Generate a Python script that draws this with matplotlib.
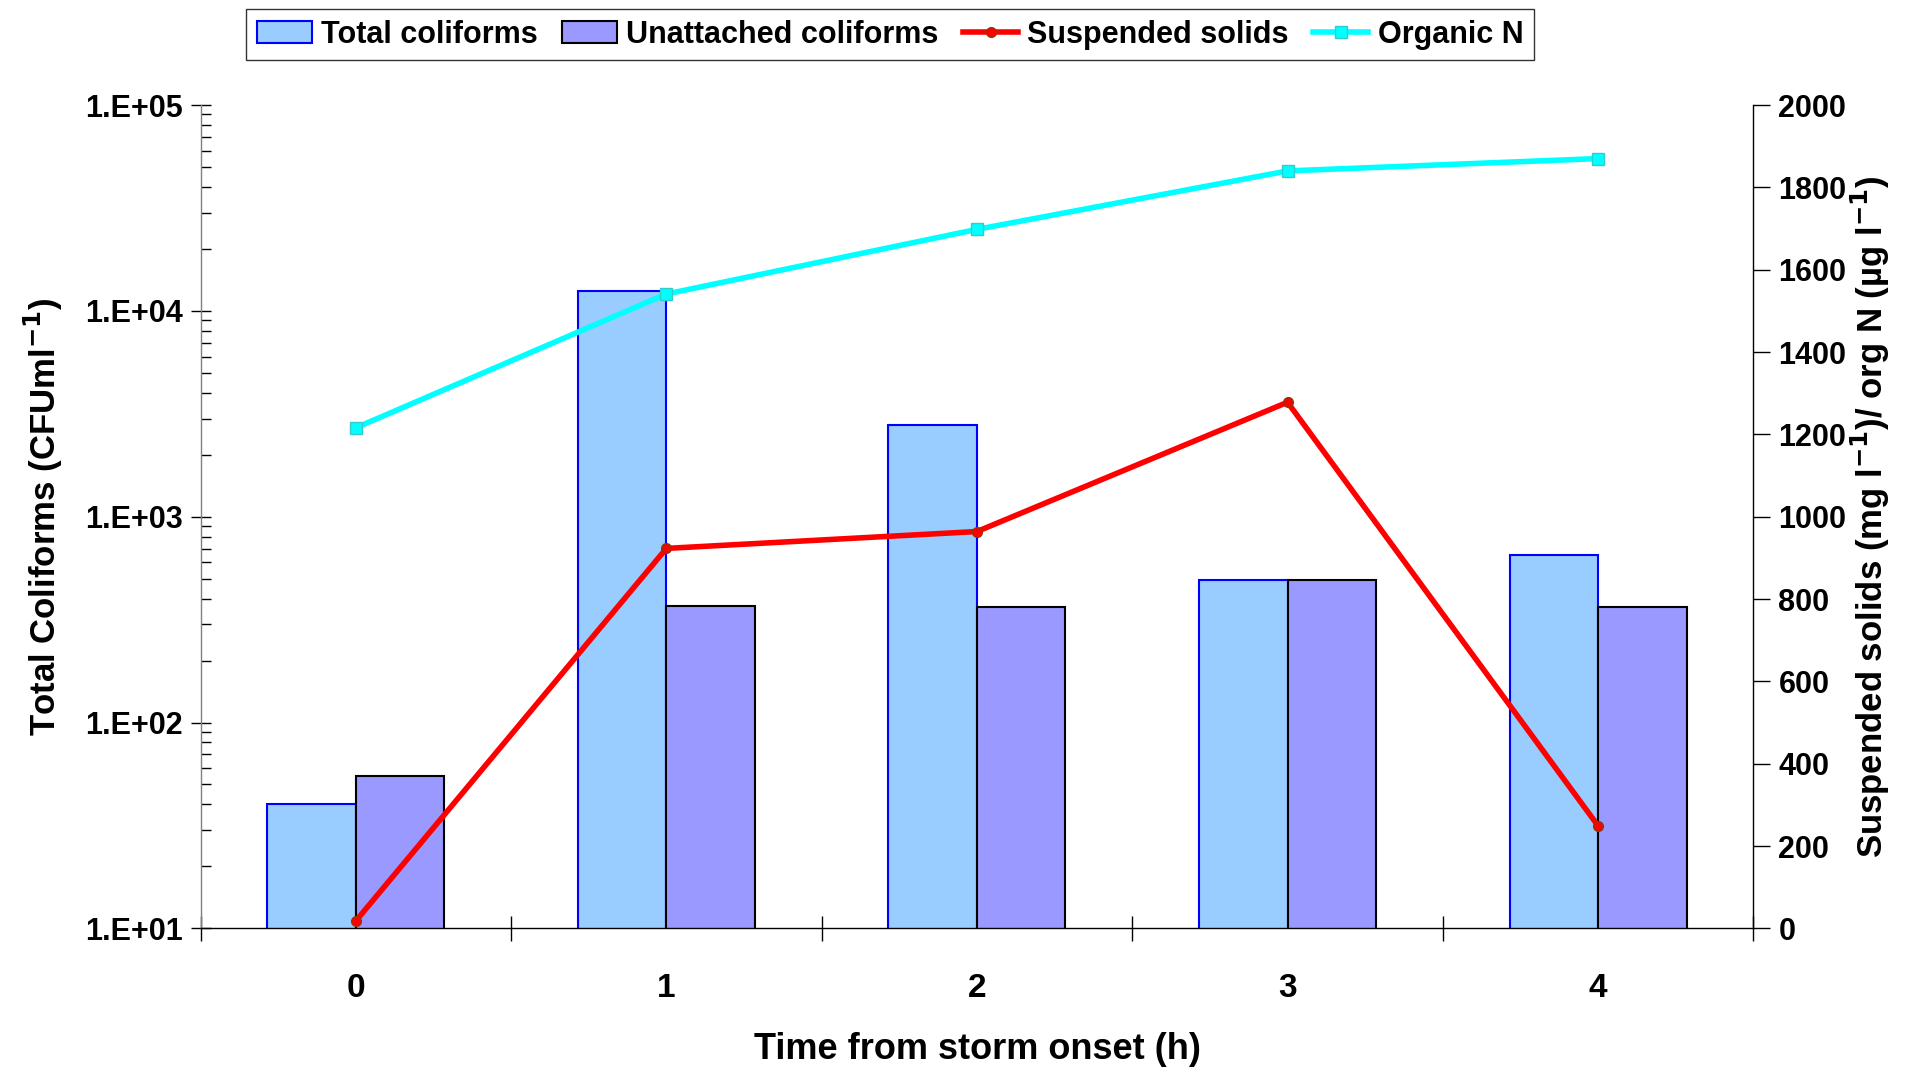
import numpy as np
import matplotlib
matplotlib.use("Agg")
import matplotlib.pyplot as plt
from matplotlib.ticker import FixedLocator, NullFormatter, LogLocator

# データ
hours = [0, 1, 2, 3, 4]
total_coliforms = [40, 12500, 2800, 490, 650]
unattached_coliforms = [55, 370, 365, 490, 365]
suspended_solids = [18, 923, 964, 1278, 249]
organic_n = [1216, 1541, 1698, 1840, 1870]
left_ticks = [1e1, 1e2, 1e3, 1e4, 1e5]
left_ticklabels = ["1.E+01", "1.E+02", "1.E+03", "1.E+04", "1.E+05"]
right_ticks = [0, 200, 400, 600, 800, 1000, 1200, 1400, 1600, 1800, 2000]

plt.rcParams["font.family"] = ["Liberation Sans", "DejaVu Sans"]
plt.rcParams["font.weight"] = "bold"
plt.rcParams["axes.labelweight"] = "bold"
plt.rcParams["mathtext.default"] = "bf"
plt.rcParams["axes.linewidth"] = 1.0

fig = plt.figure(figsize=(19.1, 10.72), dpi=100)
ax = fig.add_axes([0.105, 0.134, 0.813, 0.768])

x = np.array(hours)
w = 0.285
b1 = ax.bar(x - w, total_coliforms, width=w, align="edge", color="#99ccff",
            edgecolor="#0000ff", linewidth=1.5, label="Total coliforms", zorder=2)
b2 = ax.bar(x, unattached_coliforms, width=w, align="edge", color="#9999ff",
            edgecolor="black", linewidth=1.5, label="Unattached coliforms", zorder=2)
ax.set_yscale("log")
ax.set_ylim(10, 1e5)
ax.set_xlim(-0.5, 4.5)

ax.yaxis.set_major_locator(FixedLocator(left_ticks))
ax.set_yticklabels(left_ticklabels)
ax.yaxis.set_minor_locator(LogLocator(base=10, subs=np.arange(2, 10)))
ax.yaxis.set_minor_formatter(NullFormatter())
ax.tick_params(axis="y", which="major", direction="inout", length=14, width=1,
               labelsize=22, pad=6)
ax.tick_params(axis="y", which="minor", direction="in", length=7, width=1)

# x軸: 区切りに目盛り、ラベルはカテゴリ中央
ax.set_xticks(np.arange(-0.5, 5.0, 1.0))
ax.set_xticklabels([])
ax.set_xticks(x, minor=True)
ax.set_xticklabels([str(h) for h in hours], minor=True)
ax.tick_params(axis="x", which="major", direction="inout", length=18, width=1)
ax.tick_params(axis="x", which="minor", length=0, labelsize=24, pad=32)

for s in ["top", "right"]:
    ax.spines[s].set_visible(False)
ax.spines["left"].set_color("#808080")

ax.set_xlabel("Time from storm onset (h)", fontsize=26, labelpad=20)
ax.set_ylabel("Total Coliforms (CFUml$^{-1}$)", fontsize=25, labelpad=14)

ax2 = ax.twinx()
ax2.set_ylim(0, 2000)
ax2.set_yticks(right_ticks)
ax2.tick_params(axis="y", direction="out", length=12, width=1, labelsize=22, pad=6)
for s in ["top", "left", "bottom"]:
    ax2.spines[s].set_visible(False)
l1, = ax2.plot(x, suspended_solids, color="#ff0000", linewidth=4, marker="o",
               markersize=7, markerfacecolor="#ff0000", markeredgecolor="#993300",
               label="Suspended solids", zorder=3)
l2, = ax2.plot(x, organic_n, color="#00ffff", linewidth=4, marker="s",
               markersize=8, markerfacecolor="#00ffff", markeredgecolor="#33cccc",
               label="Organic N", zorder=3)
ax2.set_ylabel("Suspended solids (mg l$^{-1}$)/ org N (\u00b5g l$^{-1}$)",
               fontsize=25, labelpad=2)

fig.legend([b1, b2, l1, l2],
           ["Total coliforms", "Unattached coliforms", "Suspended solids", "Organic N"],
           loc="upper center", bbox_to_anchor=(0.466, 1.006), ncol=4, fontsize=22,
           frameon=True, fancybox=False, edgecolor="black", handlelength=1.8,
           handletextpad=0.3, columnspacing=0.8, borderpad=0.35)

fig.savefig("out.png", dpi=100)
